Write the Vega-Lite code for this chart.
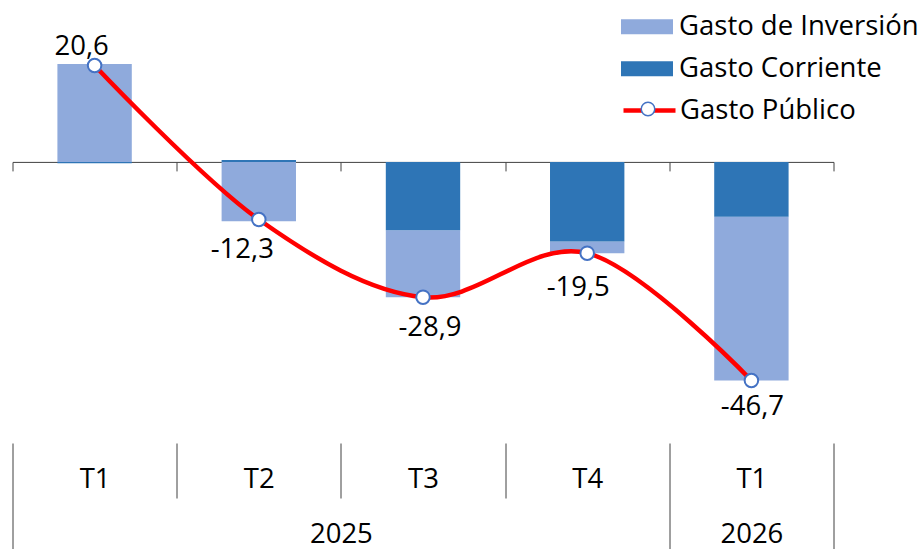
{
  "$schema": "https://vega.github.io/schema/vega-lite/v6.json",
  "width": 821,
  "height": 443,
  "autosize": "none",
  "padding": {"left": 12.5, "top": 0, "right": 87.5, "bottom": 106},
  "config": {
    "view": {"stroke": null},
    "font": "Open Sans",
    "locale": {"number": {"decimal": ",", "thousands": ".", "grouping": [3], "currency": ["", " €"], "minus": "-"}},
    "text": {"font": "Open Sans", "fontSize": 27.5, "color": "#000000", "align": "center", "baseline": "middle"}
  },
  "datasets": {
    "barras": [
      {"periodo": "2025-T1", "serie": "Gasto de Inversión", "valor": 20.9},
      {"periodo": "2025-T1", "serie": "Gasto Corriente", "valor": -0.3},
      {"periodo": "2025-T2", "serie": "Gasto de Inversión", "valor": -12.7},
      {"periodo": "2025-T2", "serie": "Gasto Corriente", "valor": 0.4},
      {"periodo": "2025-T3", "serie": "Gasto de Inversión", "valor": -14.3},
      {"periodo": "2025-T3", "serie": "Gasto Corriente", "valor": -14.6},
      {"periodo": "2025-T4", "serie": "Gasto de Inversión", "valor": -2.5},
      {"periodo": "2025-T4", "serie": "Gasto Corriente", "valor": -17.0},
      {"periodo": "2026-T1", "serie": "Gasto de Inversión", "valor": -35.0},
      {"periodo": "2026-T1", "serie": "Gasto Corriente", "valor": -11.7}
    ],
    "publico": [
      {"periodo": "2025-T1", "serie": "Gasto Público", "valor": 20.6},
      {"periodo": "2025-T2", "serie": "Gasto Público", "valor": -12.3},
      {"periodo": "2025-T3", "serie": "Gasto Público", "valor": -28.9},
      {"periodo": "2025-T4", "serie": "Gasto Público", "valor": -19.5},
      {"periodo": "2026-T1", "serie": "Gasto Público", "valor": -46.7}
    ]
  },
  "layer": [
    {
      "data": {"name": "barras"},
      "mark": {"type": "bar", "width": {"band": 0.453}},
      "encoding": {
        "x": {
          "field": "periodo", "type": "nominal", "sort": null,
          "scale": {"domain": ["2025-T1", "2025-T2", "2025-T3", "2025-T4", "2026-T1"], "paddingInner": 0, "paddingOuter": 0},
          "axis": {
            "orient": "bottom", "offset": 0, "domain": false, "grid": false, "title": null,
            "ticks": true, "tickOffset": -82.1, "tickColor": "#404040", "tickWidth": 1,
            "tickSize": {"condition": {"test": "datum.value == '2025-T1' || datum.value == '2026-T1'", "value": 120}, "value": 55},
            "labelExpr": "split(datum.value, '-')[1]", "labelAngle": 0, "labelOffset": 82.1,
            "labelFont": "Open Sans", "labelFontSize": 27.5, "labelColor": "#000000",
            "labelBaseline": "middle", "labelPadding": {"condition": {"test": "datum.value == '2025-T1' || datum.value == '2026-T1'", "value": -84}, "value": -19}
          }
        },
        "y": {
          "field": "valor", "type": "quantitative", "stack": "zero",
          "scale": {"domain": [-60.06, 34.59], "nice": false, "zero": false},
          "axis": null
        },
        "order": {"field": "serie", "sort": "ascending"},
        "fill": {
          "field": "serie", "type": "nominal",
          "scale": {"domain": ["Gasto de Inversión", "Gasto Corriente"], "range": ["#8FAADC", "#2E75B6"]},
          "legend": {
            "orient": "none", "legendX": 608.5, "legendY": 0.7, "title": null, "padding": 0,
            "symbolType": "M-1,-0.29H1V0.29H-1Z", "symbolSize": 2704, "symbolStrokeWidth": 0,
            "labelFont": "Open Sans", "labelFontSize": 27.5, "labelColor": "#000000", "labelOffset": 6, "labelLimit": 400
          }
        }
      }
    },
    {
      "data": {"name": "publico"},
      "mark": {"type": "line", "interpolate": "cardinal", "tension": 0, "strokeWidth": 4.5},
      "encoding": {
        "x": {
          "field": "periodo", "type": "nominal", "sort": null,
          "axis": {
            "orient": "bottom", "offset": {"expr": "scale('y', 0) - height"}, "grid": false, "title": null,
            "domain": true, "domainColor": "#404040", "domainWidth": 1,
            "ticks": true, "tickBand": "extent", "tickSize": 9, "tickColor": "#404040", "tickWidth": 1,
            "labels": false, "zindex": 0
          }
        },
        "y": {"field": "valor", "type": "quantitative"},
        "stroke": {
          "field": "serie", "type": "nominal",
          "scale": {"domain": ["Gasto Público"], "range": ["#FF0000"]},
          "legend": {
            "orient": "none", "legendX": 608.5, "legendY": 82, "title": null, "padding": 0,
            "symbolType": "stroke", "symbolSize": 2704, "symbolStrokeWidth": 4.5,
            "labelFont": "Open Sans", "labelFontSize": 27.5, "labelColor": "#000000", "labelOffset": 2, "labelLimit": 400
          }
        }
      }
    },
    {
      "data": {"name": "publico"},
      "mark": {"type": "point", "filled": true, "fill": "#FFFFFF", "stroke": "#4472C4", "strokeWidth": 2, "size": 2704, "opacity": 1},
      "encoding": {
        "x": {
          "field": "periodo", "type": "nominal", "sort": null,
          "axis": {
            "orient": "bottom", "offset": 0, "domain": false, "grid": false, "title": null,
            "ticks": true, "tickOffset": 82.1, "tickSize": 120, "tickColor": "#404040", "tickWidth": 1,
            "tickOpacity": {"condition": {"test": "datum.value == '2026-T1'", "value": 1}, "value": 0},
            "labelExpr": "datum.value == '2025-T2' ? '2025' : (datum.value == '2026-T1' ? '2026' : '')",
            "labelOffset": {"condition": {"test": "datum.value == '2026-T1'", "value": -82.1}, "value": 0},
            "labelAngle": 0, "labelFont": "Open Sans", "labelFontSize": 27.5, "labelColor": "#000000",
            "labelBaseline": "middle", "labelPadding": -29
          }
        },
        "y": {"field": "valor", "type": "quantitative"},
        "shape": {
          "field": "serie", "type": "nominal",
          "scale": {"range": ["M0.26,0A0.26,0.26 0 1,1 -0.26,0A0.26,0.26 0 1,1 0.26,0Z"]},
          "legend": {
            "orient": "none", "legendX": 608.5, "legendY": 82, "title": null, "padding": 0,
            "symbolSize": 2704, "labelExpr": "''", "labelOffset": 2,
            "encode": {"symbols": {"update": {"fill": {"value": "#FFFFFF"}, "stroke": {"value": "#4472C4"}, "strokeWidth": {"value": 2}, "opacity": {"value": 1}}}}
          }
        }
      }
    },
    {
      "data": {"name": "publico"},
      "transform": [{"filter": "datum.periodo == '2025-T1'"}],
      "mark": {"type": "text", "dx": -13, "dy": -18.5},
      "encoding": {
        "x": {"field": "periodo", "type": "nominal", "sort": null, "axis": null},
        "y": {"field": "valor", "type": "quantitative"},
        "text": {"field": "valor", "type": "quantitative", "format": ".1f"}
      }
    },
    {
      "data": {"name": "publico"},
      "transform": [{"filter": "datum.periodo == '2025-T2'"}],
      "mark": {"type": "text", "dx": -16.5, "dy": 31},
      "encoding": {
        "x": {"field": "periodo", "type": "nominal", "sort": null, "axis": null},
        "y": {"field": "valor", "type": "quantitative"},
        "text": {"field": "valor", "type": "quantitative", "format": ".1f"}
      }
    },
    {
      "data": {"name": "publico"},
      "transform": [{"filter": "datum.periodo == '2025-T3'"}],
      "mark": {"type": "text", "dx": 7, "dy": 30.5},
      "encoding": {
        "x": {"field": "periodo", "type": "nominal", "sort": null, "axis": null},
        "y": {"field": "valor", "type": "quantitative"},
        "text": {"field": "valor", "type": "quantitative", "format": ".1f"}
      }
    },
    {
      "data": {"name": "publico"},
      "transform": [{"filter": "datum.periodo == '2025-T4'"}],
      "mark": {"type": "text", "dx": -9, "dy": 34.5},
      "encoding": {
        "x": {"field": "periodo", "type": "nominal", "sort": null, "axis": null},
        "y": {"field": "valor", "type": "quantitative"},
        "text": {"field": "valor", "type": "quantitative", "format": ".1f"}
      }
    },
    {
      "data": {"name": "publico"},
      "transform": [{"filter": "datum.periodo == '2026-T1'"}],
      "mark": {"type": "text", "dx": 1, "dy": 27},
      "encoding": {
        "x": {"field": "periodo", "type": "nominal", "sort": null, "axis": null},
        "y": {"field": "valor", "type": "quantitative"},
        "text": {"field": "valor", "type": "quantitative", "format": ".1f"}
      }
    }
  ],
  "resolve": {"axis": {"x": "independent"}}
}
